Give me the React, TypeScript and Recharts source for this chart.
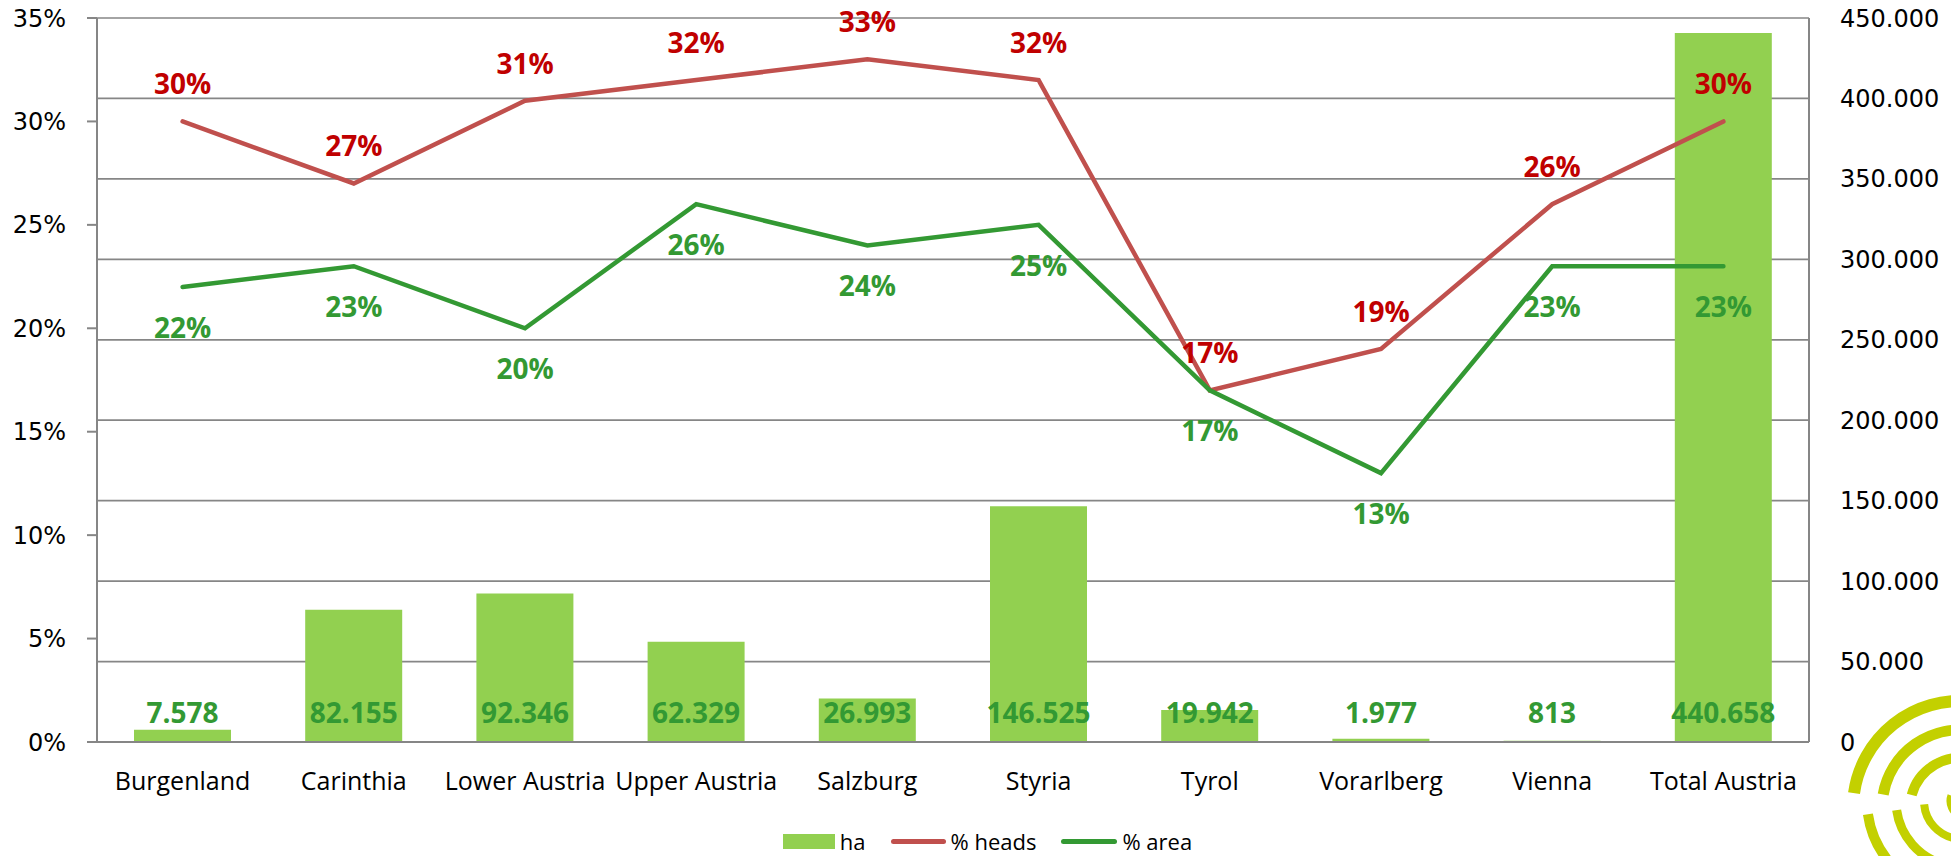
import React from "react";
import {
  ComposedChart,
  Bar,
  Line,
  XAxis,
  YAxis,
  CartesianGrid,
  Legend,
  LabelList,
} from "recharts";

const categories = [
  "Burgenland",
  "Carinthia",
  "Lower Austria",
  "Upper Austria",
  "Salzburg",
  "Styria",
  "Tyrol",
  "Vorarlberg",
  "Vienna",
  "Total Austria",
];
const haValues = [7578, 82155, 92346, 62329, 26993, 146525, 19942, 1977, 813, 440658];
const headsShare = [0.3, 0.27, 0.31, 0.32, 0.33, 0.32, 0.17, 0.19, 0.26, 0.3];
const areaShare = [0.22, 0.23, 0.2, 0.26, 0.24, 0.25, 0.17, 0.13, 0.23, 0.23];
const percentTicks = [0, 0.05, 0.1, 0.15, 0.2, 0.25, 0.3, 0.35];
const haTicks = [0, 50000, 100000, 150000, 200000, 250000, 300000, 350000, 400000, 450000];

const data = categories.map((name, i) => ({
  name,
  ha: haValues[i],
  heads: headsShare[i],
  area: areaShare[i],
}));

const GRAY = "#868686";
const BAR_GREEN = "#92D050";
const LINE_RED = "#C0504D";
const LINE_GREEN = "#339933";
const LABEL_RED = "#C00000";
const LABEL_FONT = "'Open Sans', sans-serif";
const AXIS_FONT = "'DejaVu Sans', sans-serif";

const fmtThousands = (v: number) => String(v).replace(/\B(?=(\d{3})+(?!\d))/g, ".");
const fmtPct = (v: number) => `${Math.round(v * 100)}%`;

function ChartLegend() {
  const text = { fontFamily: LABEL_FONT, fontSize: 22, color: "#000", lineHeight: "28px" };
  return (
    <div
      style={{
        display: "flex",
        justifyContent: "center",
        alignItems: "center",
        height: 38,
        boxSizing: "border-box",
        paddingTop: 8,
        paddingLeft: 24,
      }}
    >
      <span style={{ width: 52, height: 15, background: BAR_GREEN, display: "inline-block", marginRight: 5 }} />
      <span style={text}>ha</span>
      <span style={{ width: 55, height: 5, borderRadius: 3, background: LINE_RED, display: "inline-block", margin: "0 5px 0 25px" }} />
      <span style={text}>% heads</span>
      <span style={{ width: 56, height: 5, borderRadius: 3, background: LINE_GREEN, display: "inline-block", margin: "0 5px 0 25px" }} />
      <span style={text}>% area</span>
    </div>
  );
}

// decorative logo swirl in the bottom right corner
function Swirl() {
  const arc = (r: number, a0: number, a1: number, cx = 120, cy = 128) => {
    const p = (a: number) => [cx + r * Math.cos((a * Math.PI) / 180), cy + r * Math.sin((a * Math.PI) / 180)];
    const [x0, y0] = p(a0);
    const [x1, y1] = p(a1);
    return `M ${x0} ${y0} A ${r} ${r} 0 0 1 ${x1} ${y1}`;
  };
  return (
    <svg width={111} height={176} style={{ position: "absolute", left: 1840, top: 680 }}>
      <g fill="none" stroke="#C3D000" strokeLinecap="butt">
        <path d={arc(107, 188, 275)} strokeWidth={12} />
        <path d={arc(78, 190, 280)} strokeWidth={11} />
        <path d={arc(50, 195, 285)} strokeWidth={10} />
        <path d={arc(95, 110, 172, 122, 121)} strokeWidth={10} />
        <path d={arc(66, 105, 172, 122, 121)} strokeWidth={9} />
        <path d={arc(38, 100, 175, 122, 121)} strokeWidth={8} />
        <path d={arc(16, 110, 200, 126, 121)} strokeWidth={7} />
      </g>
    </svg>
  );
}

export default function App() {
  return (
    <div style={{ position: "absolute", left: 0, top: 0, width: 1951, height: 856, background: "#fff" }}>
      <ComposedChart
        width={1951}
        height={856}
        data={data}
        margin={{ top: 18, right: 0, bottom: 0, left: 0 }}
      >
        <CartesianGrid yAxisId="ha" vertical={false} stroke={GRAY} strokeWidth={1.7} />
        <XAxis
          dataKey="name"
          height={76}
          tickLine={false}
          tickSize={0}
          tickMargin={30}
          axisLine={{ stroke: GRAY, strokeWidth: 2 }}
          tick={{ fontFamily: LABEL_FONT, fontSize: 25, fill: "#000" }}
          interval={0}
        />
        <YAxis
          yAxisId="pct"
          width={97}
          domain={[0, 0.35]}
          ticks={percentTicks}
          tickFormatter={fmtPct}
          tickSize={10}
          tickMargin={21}
          tickLine={{ stroke: GRAY, strokeWidth: 2 }}
          axisLine={{ stroke: GRAY, strokeWidth: 2 }}
          tick={{ fontFamily: AXIS_FONT, fontSize: 24, fill: "#000" }}
        />
        <YAxis
          yAxisId="ha"
          orientation="right"
          width={142}
          domain={[0, 450000]}
          ticks={haTicks}
          tickFormatter={fmtThousands}
          tickSize={0}
          tickMargin={31}
          tickLine={false}
          axisLine={{ stroke: GRAY, strokeWidth: 2 }}
          tick={{ fontFamily: AXIS_FONT, fontSize: 24, fill: "#000", textAnchor: "start" }}
        />
        <Legend verticalAlign="bottom" height={38} content={() => <ChartLegend />} />
        <Bar yAxisId="ha" dataKey="ha" name="ha" fill={BAR_GREEN} barSize={97} isAnimationActive={false}>
          <LabelList
            dataKey="ha"
            position="insideBottom"
            offset={19}
            formatter={(v: any) => fmtThousands(Number(v))}
            style={{ fontFamily: LABEL_FONT, fontSize: 28, fontWeight: 700, fill: LINE_GREEN }}
          />
        </Bar>
        <Line
          yAxisId="pct"
          type="linear"
          dataKey="heads"
          name="% heads"
          stroke={LINE_RED}
          strokeWidth={4.5}
          strokeLinecap="round"
          dot={false}
          activeDot={false}
          isAnimationActive={false}
        >
          <LabelList
            dataKey="heads"
            position="top"
            offset={27}
            formatter={(v: any) => fmtPct(Number(v))}
            style={{ fontFamily: LABEL_FONT, fontSize: 28, fontWeight: 700, fill: LABEL_RED }}
          />
        </Line>
        <Line
          yAxisId="pct"
          type="linear"
          dataKey="area"
          name="% area"
          stroke={LINE_GREEN}
          strokeWidth={4.5}
          strokeLinecap="round"
          dot={false}
          activeDot={false}
          isAnimationActive={false}
        >
          <LabelList
            dataKey="area"
            position="bottom"
            offset={31}
            formatter={(v: any) => fmtPct(Number(v))}
            style={{ fontFamily: LABEL_FONT, fontSize: 28, fontWeight: 700, fill: LINE_GREEN }}
          />
        </Line>
      </ComposedChart>
      <Swirl />
    </div>
  );
}
